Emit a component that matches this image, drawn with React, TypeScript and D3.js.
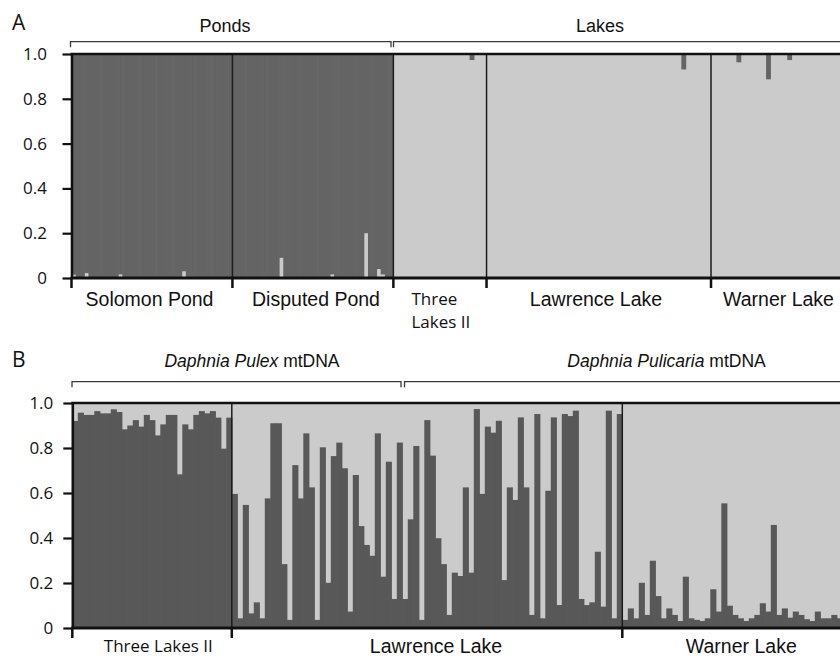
import { useEffect, useRef } from "react";
import * as d3 from "d3";

// Panel A: membership in the pond cluster (dark) per individual
const solomonA = [
  0.985, 1, 1, 0.978, 1, 1, 1, 1, 1, 1,
  1, 0.984, 1, 1, 1, 1, 1, 1, 1, 1,
  1, 1, 1, 1, 1, 1, 0.97, 1, 1, 1,
  1, 1, 1, 1, 1, 1, 1, 1,
];
const disputedA = [
  1, 1, 1, 1, 1, 1, 1, 1, 1, 1,
  1, 0.91, 1, 1, 1, 1, 1, 1, 1, 1,
  1, 1, 1, 0.984, 1, 1, 1, 1, 1, 1,
  1, 0.8, 1, 1, 0.96, 0.984, 1, 1,
];
const threeLakesA = [
  0, 0, 0, 0, 0, 0, 0, 0, 0, 0,
  0, 0, 0, 0, 0, 0, 0, 0, 0.027, 0,
  0, 0,
];
const lawrenceA = [
  0, 0, 0, 0, 0, 0, 0, 0, 0, 0,
  0, 0, 0, 0, 0, 0, 0, 0, 0, 0,
  0, 0, 0, 0, 0, 0, 0, 0, 0, 0,
  0, 0, 0, 0, 0, 0, 0, 0, 0, 0,
  0, 0, 0, 0, 0, 0, 0.069, 0, 0, 0,
  0, 0, 0,
];
const warnerA = [
  0, 0, 0, 0, 0, 0, 0.037, 0, 0, 0,
  0, 0, 0, 0.113, 0, 0, 0, 0, 0.027, 0,
  0, 0, 0, 0, 0, 0, 0, 0, 0, 0,
  0,
];

// Panel B: membership in the dark cluster per individual
const threeLakesB = [
  0.92, 0.957, 0.947, 0.947, 0.964, 0.954, 0.954, 0.972, 0.96, 0.883,
  0.9, 0.924, 0.895, 0.947, 0.924, 0.856, 0.905, 0.947, 0.947, 0.683,
  0.905, 0.883, 0.947, 0.964, 0.954, 0.964, 0.935, 0.797, 0.935,
];
const lawrenceB = [
  0.596, 0.043, 0.547, 0.065, 0.114, 0.043, 0.576, 0.91, 0.91, 0.284,
  0.036, 0.724, 0.576, 0.865, 0.625, 0.036, 0.803, 0.201, 0.764, 0.824,
  0.71, 0.073, 0.68, 0.453, 0.369, 0.321, 0.865, 0.228, 0.739, 0.129,
  0.824, 0.129, 0.483, 0.809, 0.036, 0.924, 0.766, 0.399, 0.284, 0.058,
  0.246, 0.231, 0.625, 0.246, 0.973, 0.596, 0.895, 0.868, 0.921, 0.213,
  0.625, 0.569, 0.936, 0.625, 0.058, 0.951, 0.043, 0.61, 0.936, 0.102,
  0.951, 0.942, 0.966, 0.129, 0.102, 0.114, 0.339, 0.095, 0.966, 0.043,
  0.951,
];
const warnerB = [
  0.036, 0.087, 0.043, 0.201, 0.058, 0.299, 0.142, 0.043, 0.087, 0.058,
  0.031, 0.228, 0.043, 0.036, 0.031, 0.043, 0.172, 0.073, 0.554, 0.099,
  0.058, 0.043, 0.031, 0.043, 0.058, 0.11, 0.073, 0.458, 0.058, 0.087,
  0.046, 0.073, 0.058, 0.039, 0.031, 0.073, 0.043, 0.043, 0.058, 0.043,
];

const yTicks = [0, 0.2, 0.4, 0.6, 0.8, 1];

const DARK_A = "#646464";
const DARK_B = "#585858";
const LIGHT = "#cbcbcb";
const INK = "#111";
const ARIAL = "'Liberation Sans', Arial, sans-serif";
const MYRIAD = "'Open Sans', sans-serif";

type Sel = d3.Selection<SVGSVGElement, unknown, null, undefined>;

function drawStructure(
  svg: Sel,
  opt: {
    pops: number[][];
    x0: number; x1: number; yTop: number; yBottom: number;
    darkOnTop: boolean; dark: string; labelEnd: number;
  }
) {
  const { pops, x0, x1, yTop, yBottom, darkOnTop, dark, labelEnd } = opt;
  const all = pops.flat();
  const x = d3.scaleBand<number>().domain(d3.range(all.length)).range([x0, x1]);
  const y = d3.scaleLinear().domain([0, 1]).range([yBottom, yTop]);
  const bw = x.bandwidth();
  const g = svg.append("g");

  g.append("rect")
    .attr("x", x0).attr("y", yTop).attr("width", x1 - x0).attr("height", yBottom - yTop)
    .attr("fill", LIGHT);

  g.selectAll("rect.bar").data(all).join("rect")
    .attr("class", "bar")
    .attr("x", (d, i) => x(i)!)
    .attr("width", bw + 0.6)
    .attr("y", d => (darkOnTop ? y(1) : y(d)))
    .attr("height", d => (darkOnTop ? y(1 - d) - y(1) : y(0) - y(d)))
    .attr("fill", dark);

  const starts = d3.cumsum([0, ...pops.map(p => p.length)]).slice(0, pops.length);

  // population separators
  g.selectAll("line.sep").data(starts.slice(1)).join("line")
    .attr("x1", d => x(d)!).attr("x2", d => x(d)!)
    .attr("y1", yTop).attr("y2", yBottom)
    .attr("stroke", "#1c1c1c").attr("stroke-width", 1.5);

  // frame
  g.append("line").attr("x1", x0 - 1).attr("x2", 850).attr("y1", yTop).attr("y2", yTop)
    .attr("stroke", INK).attr("stroke-width", 2.6);
  g.append("line").attr("x1", x0 - 1).attr("x2", 850).attr("y1", yBottom).attr("y2", yBottom)
    .attr("stroke", INK).attr("stroke-width", 3);

  // population ticks
  g.selectAll("line.ptick").data(starts).join("line")
    .attr("x1", d => x(d)!).attr("x2", d => x(d)!)
    .attr("y1", yBottom).attr("y2", yBottom + 10)
    .attr("stroke", INK).attr("stroke-width", 2.5);

  const axis = d3.axisLeft(y)
    .tickValues(yTicks)
    .tickSize(9)
    .tickSizeOuter(0)
    .tickPadding(x0 - 9 - labelEnd)
    .tickFormat(d => (+d === 0 ? "0" : d3.format(".1f")(+d)));

  g.append("g").attr("transform", `translate(${x0},0)`)
    .call(axis)
    .call(ax => ax.select(".domain").attr("stroke", INK).attr("stroke-width", 2.6))
    .call(ax => ax.selectAll(".tick line").attr("stroke", INK).attr("stroke-width", 2.2))
    .call(ax => ax.selectAll(".tick text")
      .attr("fill", INK).attr("font-size", 17).attr("font-family", MYRIAD));

  return x;
}

function bracket(svg: Sel, xa: number, xb: number, y: number, tickA: boolean, tickB: boolean) {
  const p = d3.path();
  if (tickA) { p.moveTo(xa, y + 5.5); p.lineTo(xa, y); } else p.moveTo(xa, y);
  p.lineTo(xb, y);
  if (tickB) p.lineTo(xb, y + 5.5);
  svg.append("path").attr("d", p.toString()).attr("fill", "none")
    .attr("stroke", "#3a3a3a").attr("stroke-width", 1.3);
}

function label(svg: Sel, text: string, x: number, y: number, size: number, family: string, anchor = "middle") {
  svg.append("text").attr("x", x).attr("y", y).attr("text-anchor", anchor)
    .attr("font-size", size).attr("font-family", family).attr("fill", INK).text(text);
}

export default function App() {
  const ref = useRef<SVGSVGElement>(null);

  useEffect(() => {
    const svg = d3.select(ref.current!) as Sel;
    svg.selectAll("*").remove();

    // ---- Panel A
    drawStructure(svg, {
      pops: [solomonA, disputedA, threeLakesA, lawrenceA, warnerA],
      x0: 71.5, x1: 842.3, yTop: 54, yBottom: 278,
      darkOnTop: true, dark: DARK_A, labelEnd: 47,
    });
    label(svg, "A", 12, 29.5, 21, MYRIAD, "start");
    label(svg, "Ponds", 225, 31.7, 18, ARIAL);
    label(svg, "Lakes", 600, 31.7, 18, ARIAL);
    bracket(svg, 70.5, 391, 41.7, true, true);
    bracket(svg, 393.5, 845, 41.7, true, false);
    label(svg, "Solomon Pond", 149.5, 305.5, 19.5, ARIAL);
    label(svg, "Disputed Pond", 316, 305.5, 19.5, ARIAL);
    label(svg, "Three", 411.5, 304.5, 17, MYRIAD, "start");
    label(svg, "Lakes II", 411.5, 328.3, 17, MYRIAD, "start");
    label(svg, "Lawrence Lake", 596, 305.5, 19.5, ARIAL);
    label(svg, "Warner Lake", 778.5, 305.5, 19.5, ARIAL);

    // ---- Panel B
    drawStructure(svg, {
      pops: [threeLakesB, lawrenceB, warnerB],
      x0: 72.3, x1: 842.3, yTop: 403, yBottom: 628,
      darkOnTop: false, dark: DARK_B, labelEnd: 53.3,
    });
    label(svg, "B", 12, 366.5, 21, MYRIAD, "start");
    const t1 = svg.append("text").attr("x", 252).attr("y", 366.5).attr("text-anchor", "middle")
      .attr("font-size", 17.5).attr("font-family", ARIAL).attr("fill", INK);
    t1.append("tspan").attr("font-style", "italic").text("Daphnia Pulex");
    t1.append("tspan").text(" mtDNA");
    const t2 = svg.append("text").attr("x", 666.5).attr("y", 366.5).attr("text-anchor", "middle")
      .attr("font-size", 17.5).attr("font-family", ARIAL).attr("fill", INK);
    t2.append("tspan").attr("font-style", "italic").text("Daphnia Pulicaria");
    t2.append("tspan").text(" mtDNA");
    bracket(svg, 72, 401, 381.7, true, true);
    bracket(svg, 404.5, 845, 381.7, true, false);
    label(svg, "Three Lakes II", 158.3, 651.7, 17, MYRIAD);
    label(svg, "Lawrence Lake", 436, 653, 19.5, ARIAL);
    label(svg, "Warner Lake", 741.3, 653.3, 19.5, ARIAL);
  }, []);

  return (
    <svg
      ref={ref}
      width={840}
      height={660}
      style={{ position: "absolute", left: 0, top: 0, background: "#fff" }}
    />
  );
}
